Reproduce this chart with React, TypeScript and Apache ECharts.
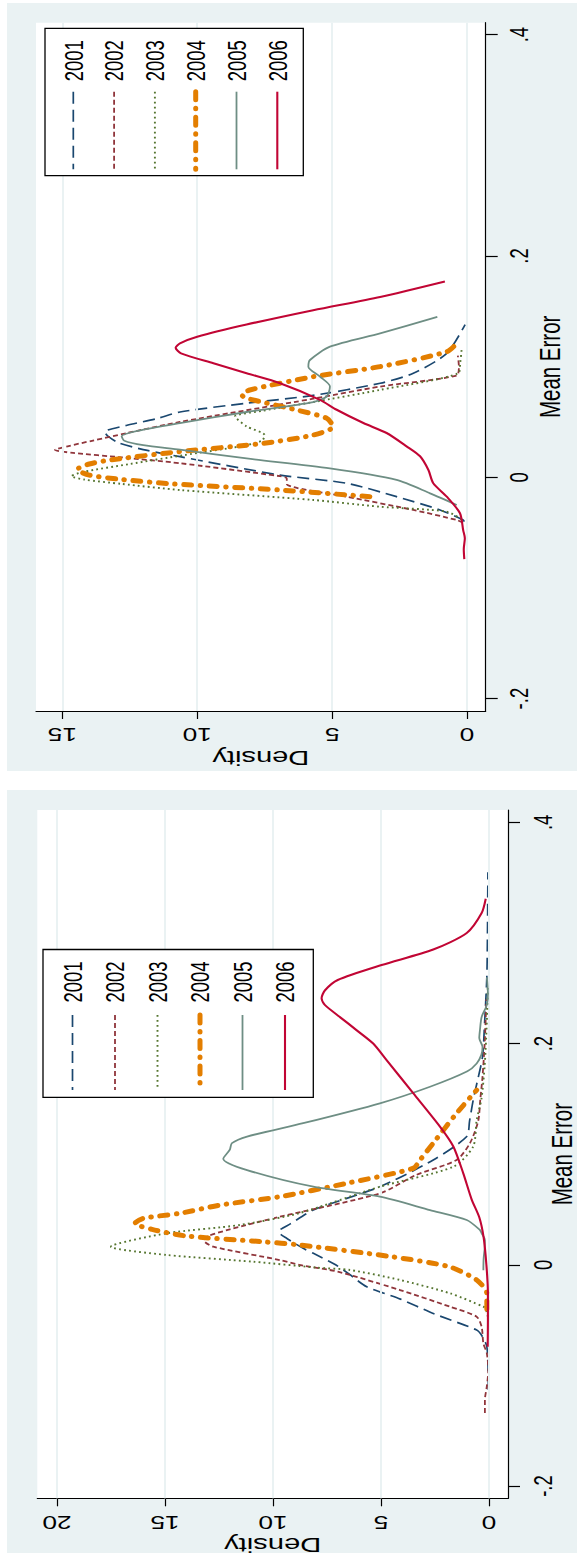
import React, { useEffect, useRef } from "react";
import * as echarts from "echarts";

const YEARS = ["2001", "2002", "2003", "2004", "2005", "2006"];
const ME_TICKS = [-0.2, 0, 0.2, 0.4];
const ME_TICK_LABELS = ["-.2", "0", ".2", ".4"];
const TOP_DENSITY_TICKS = [0, 5, 10, 15];
const BOTTOM_DENSITY_TICKS = [0, 5, 10, 15, 20];
const X_TITLE = "Mean Error";
const Y_TITLE = "Density";

// [mean error, density]
const top2001 = [[-0.040,0.1],[-0.0386,0.14],[-0.0295,1.0],[-0.0175,2.61],[-0.0054,4.46],[0.002,6.93],[0.0186,10.64],[0.025,12.0],[0.031,12.9],[0.037,13.3],[0.041,13.43],[0.047,12.6],[0.053,11.5],[0.059,10.64],[0.067,8.17],[0.074,5.70],[0.085,3.22],[0.094,1.99],[0.112,0.75],[0.138,0.07]];
const top2002 = [[-0.041,0.15],[-0.0386,0.38],[-0.0295,1.99],[-0.0175,4.46],[-0.006,6.68],[-0.001,6.68],[0.001,6.93],[0.0127,10.64],[0.018,12.8],[0.022,14.6],[0.0247,15.27],[0.028,14.8],[0.033,13.9],[0.040,12.6],[0.050,10.64],[0.071,5.70],[0.082,3.22],[0.092,0.38],[0.100,0.3],[0.110,0.34]];
const top2003 = [[-0.038,0.2],[-0.031,0.75],[-0.0266,3.22],[-0.0205,5.70],[-0.0115,10.64],[-0.006,12.8],[-0.002,14.2],[0.001,14.66],[0.005,14.2],[0.012,12.5],[0.020,10.5],[0.028,8.4],[0.033,7.6],[0.038,7.5],[0.046,8.17],[0.055,8.6],[0.060,7.6],[0.068,5.70],[0.079,3.22],[0.094,0.32],[0.104,0.25],[0.115,0.2]];
const top2004 = [[-0.0175,3.6],[-0.0115,6.93],[-0.006,10.9],[-0.002,12.8],[0.002,14.0],[0.007,14.45],[0.012,14.0],[0.0157,13.2],[0.0232,10.64],[0.0307,7.55],[0.0382,5.70],[0.0457,4.96],[0.0533,5.20],[0.0608,6.31],[0.0714,8.17],[0.0744,8.35],[0.0789,8.05],[0.0909,5.70],[0.1,3.22],[0.1135,0.75],[0.1225,0.32]];
const top2005 = [[-0.025,0.38],[-0.0145,1.37],[-0.0024,2.61],[0.008,5.08],[0.017,8.17],[0.025,10.64],[0.029,12.0],[0.033,12.7],[0.037,12.8],[0.042,12.2],[0.049,10.64],[0.059,8.17],[0.068,5.70],[0.073,5.20],[0.082,5.08],[0.091,5.45],[0.100,5.88],[0.106,5.82],[0.118,5.08],[0.130,3.22],[0.145,1.10]];
const top2006 = [[-0.074,0.1],[-0.065,0.12],[-0.055,0.08],[-0.048,0.14],[-0.0325,0.26],[-0.0175,0.75],[-0.0054,1.25],[0.0066,1.43],[0.019,1.74],[0.028,2.24],[0.040,2.98],[0.049,3.84],[0.061,4.83],[0.070,5.45],[0.085,6.93],[0.094,8.17],[0.103,9.40],[0.112,10.6],[0.117,10.8],[0.121,10.64],[0.127,10.0],[0.138,8.17],[0.151,5.70],[0.163,3.22],[0.177,0.82]];

const bot2001 = [[-0.113,0.03],[-0.095,0.04],[-0.074,0.1],[-0.065,0.3],[-0.059,0.57],[-0.044,2.58],[-0.031,4.1],[-0.0198,5.66],[-0.008,6.5],[0.0,7.1],[0.0104,8.13],[0.0149,8.6],[0.024,9.37],[0.029,9.7],[0.0315,9.68],[0.037,9.2],[0.0495,8.13],[0.0706,5.05],[0.0948,2.58],[0.116,1.03],[0.130,0.9],[0.149,0.73],[0.165,0.55],[0.188,0.3],[0.22,0.2],[0.26,0.1],[0.30,0.07],[0.355,0.05]];
const bot2002 = [[-0.134,0.19],[-0.122,0.19],[-0.11,0.1],[-0.095,0.03],[-0.08,0.1],[-0.071,0.26],[-0.056,0.34],[-0.0469,0.57],[-0.0379,1.8],[-0.0228,4.12],[-0.0062,7.0],[0.0,8.8],[0.0043,9.68],[0.0164,12.76],[0.022,13.2],[0.026,13.0],[0.032,12.0],[0.0435,9.68],[0.0646,5.05],[0.081,3.4],[0.0948,1.5],[0.11,0.88],[0.13,0.5],[0.15,0.4],[0.17,0.3],[0.2,0.2],[0.24,0.12]];
const bot2003 = [[-0.047,0.05],[-0.04,0.15],[-0.0379,0.26],[-0.0258,1.8],[-0.0137,4.12],[-0.0047,6.43],[-0.0025,8.0],[0.0028,10.9],[0.0089,14.92],[0.0164,17.5],[0.0285,14.92],[0.036,11.53],[0.0466,8.8],[0.0706,5.05],[0.0887,1.65],[0.107,0.73],[0.131,0.57],[0.15,0.35],[0.18,0.2],[0.22,0.1],[0.25,0.06]];
const bot2004 = [[-0.04,0.1],[-0.026,0.1],[-0.0137,0.57],[-0.0017,1.85],[0.0073,4.5],[0.0179,8.75],[0.0209,10.5],[0.026,14.0],[0.032,15.6],[0.0375,16.39],[0.042,16.0],[0.0466,14.3],[0.054,12.45],[0.0616,9.68],[0.0737,6.59],[0.0873,3.5],[0.0948,3.19],[0.11,2.58],[0.137,1.5],[0.158,0.57]];
const bot2005 = [[-0.005,0.26],[0.005,0.25],[0.015,0.2],[0.0224,0.19],[0.0285,0.34],[0.0315,0.42],[0.0405,1.03],[0.0495,2.73],[0.0616,5.05],[0.0706,8.13],[0.0857,11.2],[0.096,12.3],[0.104,12.0],[0.110,11.9],[0.116,11.2],[0.128,8.6],[0.146,5.05],[0.161,2.73],[0.175,1.0],[0.182,0.57],[0.19,0.35],[0.197,0.3],[0.205,0.45],[0.212,0.42],[0.224,0.34],[0.235,0.1],[0.245,0.05],[0.26,0.1]];
const bot2006 = [[-0.074,0.06],[-0.05,0.05],[-0.026,0.05],[0.0,0.12],[0.025,0.25],[0.043,0.45],[0.059,0.8],[0.0827,1.19],[0.107,1.65],[0.125,2.27],[0.155,3.5],[0.185,4.74],[0.200,5.36],[0.212,6.12],[0.224,6.9],[0.235,7.6],[0.241,7.75],[0.248,7.6],[0.2575,7.0],[0.271,4.97],[0.285,2.58],[0.30,1.03],[0.318,0.34],[0.331,0.15]];

const COLORS = ["#1a476f", "#90353b", "#55752f", "#e37e00", "#6e8e84", "#c10534"];
const WIDTHS = [1.7, 1.8, 1.9, 5, 1.8, 2.1];
const DASHES: any[] = [[12, 6], [5, 3], [1.8, 3.2], [8, 8.5, 0.5, 8.5], "solid", "solid"];
const CAPS = ["butt", "butt", "butt", "round", "butt", "butt"];
const BG = "#eaf2f3";
const FONT = '"Liberation Sans", Arial, Helvetica, sans-serif';
const FS = 18.5;
const FS_TITLE = 20.5;
const SX = 1.42;

const PANELS = [
  {
    grid: { left: 36, top: 22.7, width: 449.7, height: 688.3 },
    dMin: -0.693, dMax: 15.975, meMin: -0.2112, meMax: 0.4108,
    ticks: TOP_DENSITY_TICKS,
    data: [top2001, top2002, top2003, top2004, top2005, top2006],
    bg: { x: 7, y: 3, w: 570, h: 768 },
    meLabelX: 519, meTitleX: 550,
    legend: { x: 45, y: 28.3, w: 258.3, h: 147.4, col0: 73.3, dx: 40.8, textY: 60.8, l1: 91.7, l2: 169.3 },
  },
  {
    grid: { left: 37.3, top: 810, width: 470.7, height: 688.3 },
    dMin: -0.88, dMax: 20.91, meMin: -0.2111, meMax: 0.4112,
    ticks: BOTTOM_DENSITY_TICKS,
    data: [bot2001, bot2002, bot2003, bot2004, bot2005, bot2006],
    bg: { x: 7, y: 790, w: 570, h: 763 },
    meLabelX: 543, meTitleX: 562,
    legend: { x: 43, y: 949.5, w: 270.3, h: 147.8, col0: 72.5, dx: 42.5, textY: 982, l1: 1015, l2: 1090 },
  },
];

function txt(text: string, x: number, y: number, orient: "flip" | "up", size = FS) {
  return {
    type: "text",
    x,
    y,
    rotation: orient === "flip" ? Math.PI : Math.PI / 2,
    scaleX: orient === "flip" ? SX : 1,
    scaleY: orient === "up" ? SX : 1,
    silent: true,
    z: 50,
    style: {
      text,
      x: 0,
      y: 0,
      fill: "#000",
      fontSize: size,
      fontFamily: FONT,
      align: "center",
      verticalAlign: "middle",
      textAlign: "center",
      textVerticalAlign: "middle",
    },
  };
}

export default function App() {
  const ref = useRef<HTMLDivElement>(null);
  useEffect(() => {
    const chart = echarts.init(ref.current!, null, { renderer: "svg" });
    const grids: any[] = [];
    const xAxes: any[] = [];
    const yAxes: any[] = [];
    const series: any[] = [];
    PANELS.forEach((p, pi) => {
      grids.push({ ...p.grid, show: true, backgroundColor: "#ffffff", borderWidth: 0, containLabel: false });
      xAxes.push({
        type: "value", gridIndex: pi, min: p.dMin, max: p.dMax, inverse: true, position: "bottom",
        axisLine: { show: true, onZero: false, lineStyle: { color: "#000", width: 1.2 } },
        axisTick: { show: true, customValues: p.ticks, length: 8, lineStyle: { color: "#000", width: 1.2 } },
        axisLabel: { show: false },
        splitLine: { show: false },
      });
      yAxes.push({
        type: "value", gridIndex: pi, min: p.meMin, max: p.meMax, position: "right",
        axisLine: { show: true, onZero: false, lineStyle: { color: "#000", width: 1.2 } },
        axisTick: { show: true, customValues: ME_TICKS, length: 12, lineStyle: { color: "#000", width: 1.2 } },
        axisLabel: { show: false },
        splitLine: { show: false },
      });
      series.push({
        type: "line", xAxisIndex: pi, yAxisIndex: pi, data: [[0, 0]], symbol: "none", silent: true, z: 1,
        lineStyle: { opacity: 0 },
        markLine: {
          silent: true, symbol: "none", label: { show: false }, animation: false,
          lineStyle: { color: BG, width: 2, type: "solid" },
          data: p.ticks.map((v) => ({ xAxis: v })),
        },
      });
      p.data.forEach((arr, i) => {
        series.push({
          name: YEARS[i] + (pi === 0 ? "a" : "b"),
          type: "line", xAxisIndex: pi, yAxisIndex: pi,
          data: arr.map(([me, d]) => [d, me]),
          symbol: "none", showSymbol: false, smooth: 0.25, silent: true, z: 3 + i,
          lineStyle: { color: COLORS[i], width: WIDTHS[i], type: DASHES[i], cap: CAPS[i], join: "round" },
        });
      });
    });

    chart.setOption({
      animation: false,
      backgroundColor: "#ffffff",
      grid: grids,
      xAxis: xAxes,
      yAxis: yAxes,
      series,
    });

    const graphics: any[] = [];
    PANELS.forEach((p, pi) => {
      graphics.push({
        type: "rect", silent: true, z: -10,
        shape: { x: p.bg.x, y: p.bg.y, width: p.bg.w, height: p.bg.h },
        style: { fill: BG },
      });
      const gBottom = p.grid.top + p.grid.height;
      p.ticks.forEach((v) => {
        const x = chart.convertToPixel({ xAxisIndex: pi } as any, v) as number;
        graphics.push(txt(String(v), x, gBottom + 24, "flip"));
      });
      graphics.push(txt(Y_TITLE, p.grid.left + p.grid.width / 2, gBottom + 47, "flip", FS_TITLE));
      ME_TICKS.forEach((v, k) => {
        const y = chart.convertToPixel({ yAxisIndex: pi } as any, v) as number;
        graphics.push(txt(ME_TICK_LABELS[k], p.meLabelX, y, "up"));
      });
      graphics.push(txt(X_TITLE, p.meTitleX, p.grid.top + p.grid.height / 2, "up", FS_TITLE));
      const L = p.legend;
      graphics.push({
        type: "rect", silent: true, z: 40,
        shape: { x: L.x, y: L.y, width: L.w, height: L.h },
        style: { fill: "#fff", stroke: "#000", lineWidth: 1.3 },
      });
      YEARS.forEach((yr, i) => {
        const cx = L.col0 + i * L.dx;
        graphics.push(txt(yr, cx, L.textY, "up"));
        graphics.push({
          type: "line", silent: true, z: 45,
          shape: { x1: cx, y1: L.l1, x2: cx, y2: L.l2 },
          style: {
            stroke: COLORS[i], lineWidth: WIDTHS[i],
            lineDash: Array.isArray(DASHES[i]) ? DASHES[i] : null,
            lineCap: CAPS[i],
          },
        });
      });
    });
    chart.setOption({ graphic: graphics });
    return () => chart.dispose();
  }, []);
  return <div ref={ref} style={{ position: "absolute", left: 0, top: 0, width: 577, height: 1556 }} />;
}
